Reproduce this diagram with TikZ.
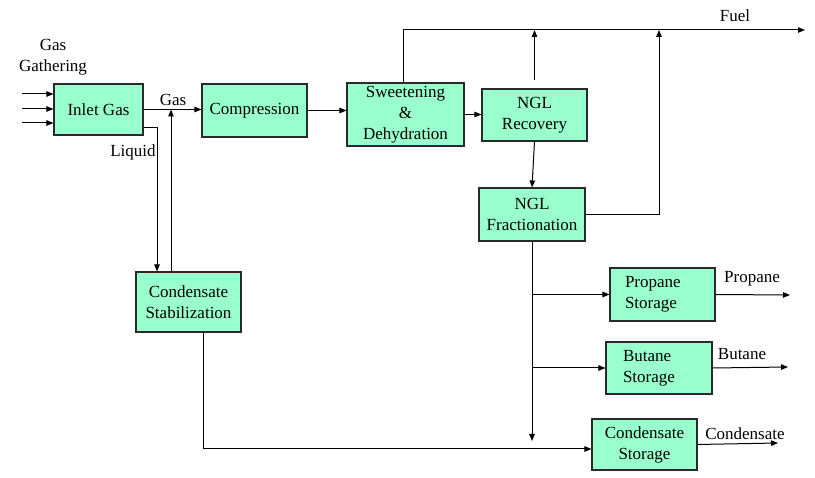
\documentclass[tikz,border=0pt]{standalone}
\usepackage{fontspec}
\setmainfont{Liberation Serif}
\usetikzlibrary{arrows.meta,calc}
\definecolor{boxfill}{HTML}{99FFCC}
\definecolor{boxline}{HTML}{2A2A2A}
\begin{document}
\begin{tikzpicture}[x=1pt,y=-1pt,
  font=\rmfamily\fontsize{17}{21}\selectfont,
  blk/.style={draw=boxline,line width=1.1pt,fill=boxfill,rectangle,inner sep=0pt,align=center},
  arr/.style={line width=1pt,-{Triangle[length=7pt,width=5.5pt]}},
  lbl/.style={inner sep=0pt}]
\useasboundingbox (0,0) rectangle (815,478);
% boxes
\node[blk,minimum width=89pt,minimum height=51pt] (inlet) at (98.5,109.5) {Inlet Gas};
\node[blk,minimum width=105pt,minimum height=53pt] (comp) at (254.5,110.5) {Compression};
\node[blk,minimum width=117pt,minimum height=63pt] (sweet) at (405.5,114.5) {Sweetening\\\&\\Dehydration};
\node[blk,minimum width=105pt,minimum height=52pt] (ngr) at (534.5,115) {NGL\\Recovery};
\node[blk,minimum width=106pt,minimum height=53pt] (ngf) at (532,214.5) {NGL\\Fractionation};
\node[blk,minimum width=105pt,minimum height=60pt] (cstab) at (188.5,302) {Condensate\\Stabilization};
\node[blk,minimum width=105pt,minimum height=53pt,text width=75pt,align=left] (prop) at (662.5,294.5) {Propane\\Storage};
\node[blk,minimum width=106pt,minimum height=52pt,text width=72pt,align=left] (but) at (659,368) {Butane\\Storage};
\node[blk,minimum width=105pt,minimum height=51pt] (cstor) at (644.5,444.5) {Condensate\\Storage};
% labels
\node[lbl,align=center] (gg) at (53,57.5) {Gas\\Gathering};
\node[lbl] (lgas) at (173,100) {Gas};
\node[lbl] (lliq) at (133,152) {Liquid};
\node[lbl] (lfuel) at (735,16) {Fuel};
\node[lbl] (lprop) at (752,279) {Propane};
\node[lbl] (lbut) at (742,354) {Butane};
\node[lbl] (lcond) at (745,434) {Condensate};
% free ends
\coordinate (g1) at (22,94);
\coordinate (g2) at (22,109);
\coordinate (g3) at (22,123);
\coordinate (j1) at (171,109.5);
\coordinate (lq) at (157,128);
\coordinate (fuel) at (805,30);
\coordinate (f2) at (659,30);
\coordinate (dn) at (532,441);
\coordinate (po) at (790,295);
\coordinate (bo) at (788,367);
\coordinate (co) at (778,443);
% connectors
\draw[arr] (g1) -- (g1 -| inlet.west);
\draw[arr] (g2) -- (g2 -| inlet.west);
\draw[arr] (g3) -- (g3 -| inlet.west);
\draw[arr] (inlet.east) -- (inlet.east -| comp.west);
\draw[arr] (j1 |- cstab.north) -- (j1);
\draw[arr] (lq -| inlet.east) -| (lq |- cstab.north);
\draw[arr] (comp.east) -- (comp.east -| sweet.west);
\draw[arr] (sweet.east) -- (sweet.east -| ngr.west);
\draw[arr] ([xshift=-2.5pt]sweet.north) |- (fuel);
\draw[arr] ([yshift=8pt]ngr.north) -- (ngr.north |- fuel);
\draw[arr] (ngr.south) -- (ngf.north);
\draw[arr] (ngf.east) -| (f2);
\draw[arr] (ngf.south) -- (dn);
\draw[arr] (ngf.south |- prop.west) -- (prop.west);
\draw[arr] (ngf.south |- but.west) -- (but.west);
\draw[arr] ([xshift=14.5pt]cstab.south) |- ([yshift=-4.5pt]cstor.west);
\draw[arr] (prop.east) -- (po);
\draw[arr] (but.east) -- (bo);
\draw[arr] (cstor.east) -- (co);
\end{tikzpicture}
\end{document}
